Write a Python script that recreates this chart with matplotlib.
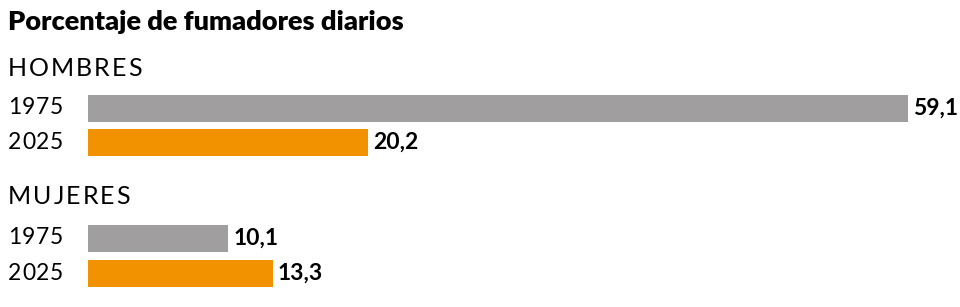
import matplotlib.pyplot as plt
from matplotlib.transforms import offset_copy

plt.rcParams['font.family'] = ['Lato', 'DejaVu Sans']

groups = ['HOMBRES', 'MUJERES']
years = ['1975', '2025']
hombres = [59.1, 20.2]
mujeres = [10.1, 13.3]
colors = ['#a09e9f', '#f39200']

fig = plt.figure(figsize=(9.6, 3.07), dpi=100)
ax = fig.add_axes([0, 0, 1, 1])

# scale: 88 px -> 0, 908 px -> 59.1
px = 820 / 59.1
ax.set_xlim(-88 / px, (960 - 88) / px)
ax.set_ylim(307, 0)
ax.axis('off')

x_text = 8 / px - 88 / px
renderer = fig.canvas.get_renderer()


def spaced_text(x, y, s, spacing, **kw):
    # draw letters one by one to get wider tracking
    dx = 0
    for ch in s:
        tr = offset_copy(ax.transData, fig=fig, x=dx, y=0, units='dots')
        t = ax.text(x, y, ch, transform=tr, **kw)
        dx += t.get_window_extent(renderer).width + spacing


ax.text(x_text, 22, 'Porcentaje de fumadores diarios', fontsize=19.5,
        fontweight='heavy', va='center', ha='left')

group_y = [68, 196]
bar_y = [[108, 142.5], [238, 273]]
for g, name in enumerate(groups):
    spaced_text(x_text, group_y[g], name, 2.0, fontsize=18, va='center', ha='left')
    vals = hombres if g == 0 else mujeres
    for i, v in enumerate(vals):
        y = bar_y[g][i]
        ax.barh(y, v, height=27, color=colors[i], left=0)
        spaced_text(x_text, y, years[i], 0.8, fontsize=16.5, va='center', ha='left')
        ax.text(v + 5 / px, y, f'{v:.1f}'.replace('.', ','), fontsize=16.5,
                fontweight='bold', va='center', ha='left')

fig.savefig('out.png', dpi=100)
